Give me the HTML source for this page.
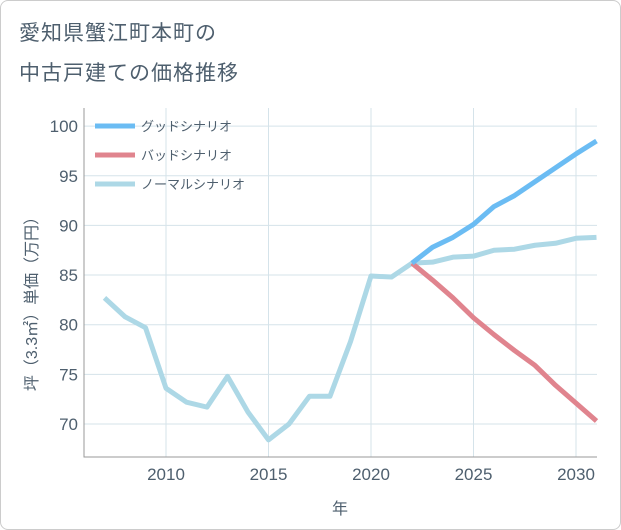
<!DOCTYPE html>
<html><head><meta charset="utf-8"><style>
body{margin:0;background:#fff;font-family:"Liberation Sans","Noto Sans CJK JP",sans-serif;}
#wrap{position:relative;width:619px;height:528px;border:1px solid #ccc;border-radius:8px;overflow:hidden;background:#fff}
.title{position:absolute;left:18px;font-size:21px;color:#4e5f6e;letter-spacing:1px}
</style></head><body>
<div id="wrap">
<div class="title" style="top:16px">愛知県蟹江町本町の</div>
<div class="title" style="top:56px">中古戸建ての価格推移</div>
<svg id="chart" width="621" height="530" style="position:absolute;left:-1px;top:-1px"></svg>
</div>
<script>
const years=[2007,2008,2009,2010,2011,2012,2013,2014,2015,2016,2017,2018,2019,2020,2021,2022,2023,2024,2025,2026,2027,2028,2029,2030,2031];
const normalVals=[82.7,80.8,79.7,73.6,72.2,71.7,74.8,71.2,68.4,70,72.8,72.8,78.3,84.9,84.8,86.2,86.3,86.8,86.9,87.5,87.6,88,88.2,88.7,88.8];
const futureYears=[2022,2023,2024,2025,2026,2027,2028,2029,2030,2031];
const goodVals=[86.2,87.8,88.8,90.1,91.9,93.0,94.4,95.8,97.2,98.5];
const badVals=[86.2,84.5,82.7,80.7,79.0,77.4,75.9,73.9,72.1,70.3];
const xTicks=[2010,2015,2020,2025,2030];
const yTicks=[70,75,80,85,90,95,100];
const L=84,R=597,T=108,B=457;
const x=v=>166+(v-2010)*20.5;
const y=v=>424-(v-70)*9.93;
const svg=document.getElementById('chart');
const NS='http://www.w3.org/2000/svg';
const TC='#4e5f6e';
function mk(t,a){const e=document.createElementNS(NS,t);for(const k in a)e.setAttribute(k,a[k]);svg.appendChild(e);return e;}
for(const t of yTicks){const g=mk('line',{x1:L,x2:R,y1:y(t),y2:y(t),stroke:'#d5e3ea','stroke-width':1});

const l=mk('text',{x:L-6,y:y(t)+6,'text-anchor':'end','font-size':17,fill:TC});l.textContent=t;
}
for(const t of xTicks){const g=mk('line',{x1:x(t),x2:x(t),y1:T,y2:B,stroke:'#d5e3ea','stroke-width':1});

const l=mk('text',{x:x(t),y:B+23,'text-anchor':'middle','font-size':17,fill:TC});l.textContent=t;
}
const ax=mk('path',{d:`M${L} ${T}V${B}H${R}`,stroke:'#999',fill:'none'});

function line(xs,vs,c,n){const p=mk('polyline',{points:xs.map((v,i)=>x(v)+','+y(vs[i])).join(' '),fill:'none',stroke:c,'stroke-width':5,'stroke-linejoin':'round'});
}
line(years,normalVals,'#add8e6','normal-scenario-line');
line(futureYears,badVals,'#e0848e','bad-scenario-line');
line(futureYears,goodVals,'#6bbcf3','good-scenario-line');
const leg=[['グッドシナリオ','#6bbcf3'],['バッドシナリオ','#e0848e'],['ノーマルシナリオ','#add8e6']];
leg.forEach((d,i)=>{const yy=126+i*29;
const s=mk('line',{x1:95,x2:135,y1:yy,y2:yy,stroke:d[1],'stroke-width':5});

const t=mk('text',{x:141,y:yy+5,'font-size':13,fill:TC});t.textContent=d[0];
});
const xt=mk('text',{x:340,y:514,'text-anchor':'middle','font-size':16,fill:TC});xt.textContent='年';

const yt=mk('text',{x:0,y:0,'text-anchor':'middle','font-size':16,fill:TC,transform:'translate(37,300) rotate(-90)'});yt.textContent='坪（3.3㎡）単価（万円）';

</script>
</body></html>
